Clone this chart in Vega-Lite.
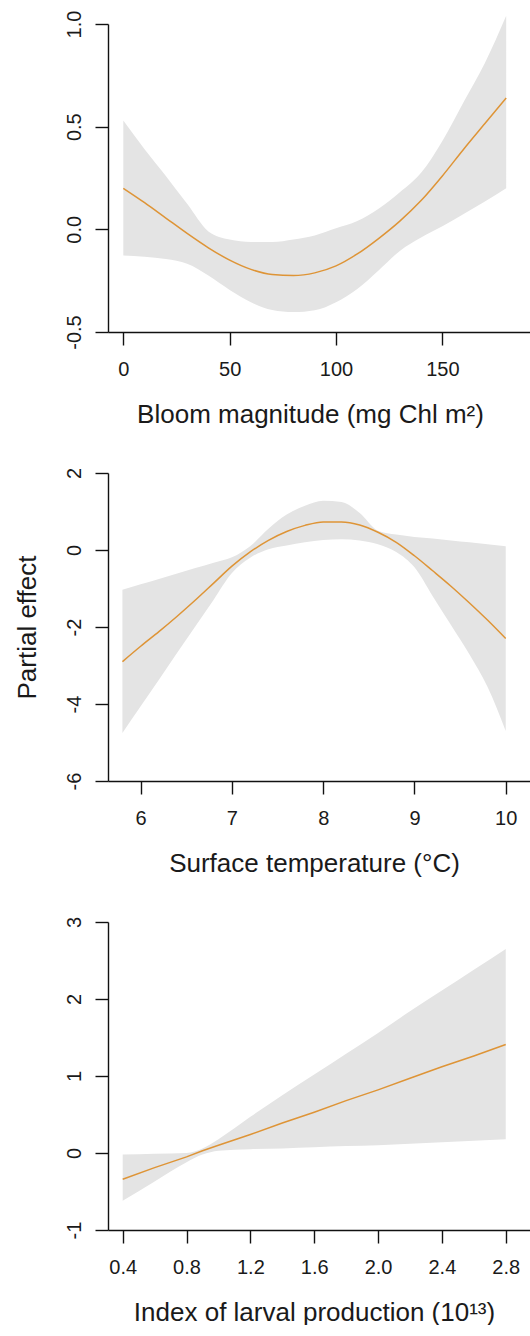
{
  "$schema": "https://vega.github.io/schema/vega-lite/v6.json",
  "background": "white",
  "padding": {"left": 14, "top": 10, "right": 0, "bottom": 0},
  "bounds": "flush",
  "spacing": 141,
  "config": {
    "view": {"stroke": null},
    "font": "Liberation Sans",
    "axis": {
      "grid": false,
      "domainColor": "#111",
      "domainWidth": 1.4,
      "tickColor": "#111",
      "tickWidth": 1.4,
      "tickSize": 13,
      "labelFont": "Liberation Sans",
      "labelFontSize": 20,
      "labelColor": "#1a1a1a",
      "labelFlush": false,
      "labelOverlap": false,
      "titleFont": "Liberation Sans",
      "titleFontSize": 26,
      "titleFontWeight": "normal",
      "titleColor": "#1a1a1a"
    },
    "axisX": {"labelPadding": 14, "titlePadding": 22, "labelAngle": 0},
    "axisY": {"labelPadding": 11, "titlePadding": 24, "labelAngle": -90, "labelAlign": "center", "labelBaseline": "bottom"}
  },
  "datasets": {
    "bloom": [
      {"x": 0, "fit": 0.20, "lo": -0.127, "hi": 0.53},
      {"x": 10, "fit": 0.13, "lo": -0.133, "hi": 0.39},
      {"x": 20, "fit": 0.055, "lo": -0.145, "hi": 0.26},
      {"x": 30, "fit": -0.02, "lo": -0.168, "hi": 0.124},
      {"x": 40, "fit": -0.09, "lo": -0.225, "hi": -0.01},
      {"x": 50, "fit": -0.15, "lo": -0.295, "hi": -0.05},
      {"x": 60, "fit": -0.195, "lo": -0.355, "hi": -0.062},
      {"x": 70, "fit": -0.22, "lo": -0.393, "hi": -0.062},
      {"x": 80, "fit": -0.225, "lo": -0.403, "hi": -0.05},
      {"x": 90, "fit": -0.212, "lo": -0.394, "hi": -0.03},
      {"x": 100, "fit": -0.178, "lo": -0.355, "hi": 0.005},
      {"x": 110, "fit": -0.12, "lo": -0.29, "hi": 0.04},
      {"x": 120, "fit": -0.045, "lo": -0.2, "hi": 0.1},
      {"x": 130, "fit": 0.04, "lo": -0.105, "hi": 0.18},
      {"x": 140, "fit": 0.14, "lo": -0.04, "hi": 0.275},
      {"x": 150, "fit": 0.26, "lo": 0.015, "hi": 0.43},
      {"x": 160, "fit": 0.39, "lo": 0.075, "hi": 0.62},
      {"x": 170, "fit": 0.515, "lo": 0.135, "hi": 0.81},
      {"x": 180, "fit": 0.64, "lo": 0.2, "hi": 1.04}
    ],
    "temp": [
      {"x": 5.8, "fit": -2.9, "lo": -4.75, "hi": -1.03},
      {"x": 6.0, "fit": -2.5, "lo": -4.06, "hi": -0.89},
      {"x": 6.2, "fit": -2.12, "lo": -3.37, "hi": -0.75},
      {"x": 6.4, "fit": -1.72, "lo": -2.67, "hi": -0.61},
      {"x": 6.6, "fit": -1.3, "lo": -1.98, "hi": -0.47},
      {"x": 6.8, "fit": -0.86, "lo": -1.29, "hi": -0.33},
      {"x": 7.0, "fit": -0.42, "lo": -0.6, "hi": -0.19},
      {"x": 7.2, "fit": -0.05, "lo": -0.2, "hi": 0.1},
      {"x": 7.4, "fit": 0.25, "lo": 0.02, "hi": 0.55},
      {"x": 7.6, "fit": 0.48, "lo": 0.12, "hi": 0.92},
      {"x": 7.8, "fit": 0.64, "lo": 0.2, "hi": 1.15},
      {"x": 8.0, "fit": 0.73, "lo": 0.26, "hi": 1.28},
      {"x": 8.2, "fit": 0.73, "lo": 0.28, "hi": 1.25},
      {"x": 8.4, "fit": 0.65, "lo": 0.25, "hi": 0.96},
      {"x": 8.6, "fit": 0.46, "lo": 0.15, "hi": 0.5},
      {"x": 8.8, "fit": 0.2, "lo": -0.05, "hi": 0.4},
      {"x": 9.0, "fit": -0.15, "lo": -0.45, "hi": 0.34},
      {"x": 9.2, "fit": -0.54, "lo": -1.2, "hi": 0.3},
      {"x": 9.4, "fit": -0.94, "lo": -1.95, "hi": 0.25},
      {"x": 9.6, "fit": -1.37, "lo": -2.7, "hi": 0.2},
      {"x": 9.8, "fit": -1.82, "lo": -3.55, "hi": 0.15},
      {"x": 10.0, "fit": -2.3, "lo": -4.7, "hi": 0.1}
    ],
    "larval": [
      {"x": 0.4, "fit": -0.34, "lo": -0.62, "hi": -0.02},
      {"x": 0.6, "fit": -0.19, "lo": -0.37, "hi": -0.01},
      {"x": 0.8, "fit": -0.05, "lo": -0.12, "hi": 0.0},
      {"x": 0.9, "fit": 0.03, "lo": -0.02, "hi": 0.06},
      {"x": 1.0, "fit": 0.1, "lo": 0.03, "hi": 0.18},
      {"x": 1.2, "fit": 0.24, "lo": 0.05, "hi": 0.47},
      {"x": 1.4, "fit": 0.39, "lo": 0.06, "hi": 0.75},
      {"x": 1.6, "fit": 0.53, "lo": 0.075, "hi": 1.02},
      {"x": 1.8, "fit": 0.68, "lo": 0.09, "hi": 1.29},
      {"x": 2.0, "fit": 0.82, "lo": 0.1, "hi": 1.56},
      {"x": 2.2, "fit": 0.97, "lo": 0.12, "hi": 1.84},
      {"x": 2.4, "fit": 1.12, "lo": 0.14, "hi": 2.11},
      {"x": 2.6, "fit": 1.26, "lo": 0.16, "hi": 2.38},
      {"x": 2.8, "fit": 1.41, "lo": 0.18, "hi": 2.65}
    ]
  },
  "vconcat": [
    {
      "width": 422,
      "height": 308,
      "data": {"name": "bloom"},
      "layer": [
        {
          "mark": {"type": "area", "color": "#E4E4E4", "clip": false, "interpolate": "monotone"},
          "encoding": {
            "x": {"field": "x", "type": "quantitative", "scale": {"domain": [-7.2, 191.2], "nice": false, "zero": false},
                  "axis": {"values": [0, 50, 100, 150], "format": "d", "title": "Bloom magnitude (mg Chl m²)", "titleX": 202}},
            "y": {"field": "lo", "type": "quantitative", "scale": {"domain": [-0.5, 1.0], "nice": false, "zero": false},
                  "axis": {"values": [-0.5, 0, 0.5, 1.0], "title": null, "labelExpr": "datum.value < 0 ? '-' + format(-datum.value, '.1f') : format(datum.value, '.1f')"}},
            "y2": {"field": "hi"}
          }
        },
        {
          "mark": {"type": "line", "color": "#DE9436", "strokeWidth": 1.5, "clip": false, "interpolate": "monotone"},
          "encoding": {
            "x": {"field": "x", "type": "quantitative"},
            "y": {"field": "fit", "type": "quantitative"}
          }
        }
      ]
    },
    {
      "width": 422,
      "height": 308,
      "data": {"name": "temp"},
      "layer": [
        {
          "mark": {"type": "area", "color": "#E4E4E4", "clip": false, "interpolate": "monotone"},
          "encoding": {
            "x": {"field": "x", "type": "quantitative", "scale": {"domain": [5.642, 10.266], "nice": false, "zero": false},
                  "axis": {"values": [6, 7, 8, 9, 10], "format": "d", "title": "Surface temperature (°C)", "titleX": 206}},
            "y": {"field": "lo", "type": "quantitative", "scale": {"domain": [-6, 2], "nice": false, "zero": false},
                  "axis": {"values": [-6, -4, -2, 0, 2], "title": "Partial effect", "labelExpr": "datum.value < 0 ? '-' + format(-datum.value, 'd') : format(datum.value, 'd')"}},
            "y2": {"field": "hi"}
          }
        },
        {
          "mark": {"type": "line", "color": "#DE9436", "strokeWidth": 1.5, "clip": false, "interpolate": "monotone"},
          "encoding": {
            "x": {"field": "x", "type": "quantitative"},
            "y": {"field": "fit", "type": "quantitative"}
          }
        }
      ]
    },
    {
      "width": 422,
      "height": 308,
      "data": {"name": "larval"},
      "layer": [
        {
          "mark": {"type": "area", "color": "#E4E4E4", "clip": false, "interpolate": "monotone"},
          "encoding": {
            "x": {"field": "x", "type": "quantitative", "scale": {"domain": [0.308, 2.952], "nice": false, "zero": false},
                  "axis": {"values": [0.4, 0.8, 1.2, 1.6, 2.0, 2.4, 2.8], "format": ".1f", "title": "Index of larval production (10¹³)", "titleX": 206}},
            "y": {"field": "lo", "type": "quantitative", "scale": {"domain": [-1, 3], "nice": false, "zero": false},
                  "axis": {"values": [-1, 0, 1, 2, 3], "title": null, "labelExpr": "datum.value < 0 ? '-' + format(-datum.value, 'd') : format(datum.value, 'd')"}},
            "y2": {"field": "hi"}
          }
        },
        {
          "mark": {"type": "line", "color": "#DE9436", "strokeWidth": 1.5, "clip": false},
          "encoding": {
            "x": {"field": "x", "type": "quantitative"},
            "y": {"field": "fit", "type": "quantitative"}
          }
        }
      ]
    }
  ]
}
